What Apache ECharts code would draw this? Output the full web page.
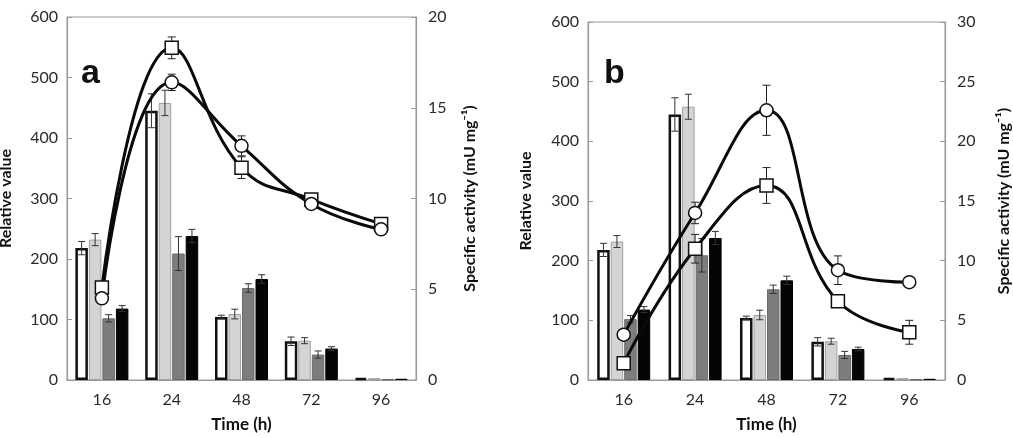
<!DOCTYPE html>
<html>
<head>
<meta charset="utf-8">
<script src="https://cdn.jsdelivr.net/npm/echarts@6/dist/echarts.min.js"></script>
<style>
html,body{margin:0;padding:0;background:#fff;}
#chart{width:1013px;height:438px;}
</style>
</head>
<body>
<div id="chart"></div>
<script>
// ---- data ----
const categories = ['16', '24', '48', '72', '96'];
// bars (relative value, left axis) - same in both panels
const barWhite = [218, 445, 104, 64, 3];
const barLight = [232, 458, 109, 65, 3];
const barDark  = [102, 209, 152, 42, 1];
const barBlack = [118, 238, 167, 52, 2];
const errWhite = [11, 28, 3, 7, 0];
const errLight = [10, 21, 8, 5, 0];
const errDark  = [6, 28, 7, 6, 0];
const errBlack = [5, 11, 7, 3, 0];
// lines panel a (specific activity, right axis 0-20)
const sqA    = [5.1, 18.3, 11.7, 9.95, 8.6];
const sqAErr = [0.3, 0.6, 0.6, 0.25, 0.25];
const ciA    = [4.5, 16.4, 12.9, 9.7, 8.3];
const ciAErr = [0.2, 0.45, 0.55, 0.25, 0.2];
// lines panel b (specific activity, right axis 0-30)
const ciB    = [3.8, 14.0, 22.6, 9.2, 8.2];
const ciBErr = [0.4, 0.9, 2.1, 1.2, 0.2];
const sqB    = [1.4, 11.0, 16.3, 6.6, 4.0];
const sqBErr = [0.3, 1.2, 1.5, 0.3, 1.0];
// ticks
const leftMax = 600, leftStep = 100;
const rightMaxA = 20, rightMaxB = 30, rightStep = 5;

// ---- style ----
const FONT = 'Lato';
const BAR_W = 12.5, BAR_GAP = 0.08;
const axisGray = '#9a9a9a';

const chart = echarts.init(document.getElementById('chart'));

const barSets = [
  {vals: barWhite, errs: errWhite, style: {color: '#ffffff', borderColor: '#111', borderWidth: 2.5}},
  {vals: barLight, errs: errLight, style: {color: '#d4d4d4', borderColor: '#a0a0a0', borderWidth: 1}},
  {vals: barDark,  errs: errDark,  style: {color: '#7d7d7d', borderColor: '#6a6a6a', borderWidth: 1}},
  {vals: barBlack, errs: errBlack, style: {color: '#050505', borderColor: '#000', borderWidth: 1}}
];

function errRender(offsetPx, cap, color, width) {
  return function (params, api) {
    const i = api.value(0), v = api.value(1), e = api.value(2);
    if (!e) return null;
    const hi = api.coord([i, v + e]);
    const lo = api.coord([i, v - e]);
    const x = hi[0] + offsetPx;
    const st = {stroke: color, lineWidth: width};
    return {type: 'group', children: [
      {type: 'line', shape: {x1: x, y1: hi[1], x2: x, y2: lo[1]}, style: st},
      {type: 'line', shape: {x1: x - cap, y1: hi[1], x2: x + cap, y2: hi[1]}, style: st},
      {type: 'line', shape: {x1: x - cap, y1: lo[1], x2: x + cap, y2: lo[1]}, style: st}
    ]};
  };
}

const series = [];
function addPanel(p, lines) {
  const xi = p, yl = p * 2, yr = p * 2 + 1;
  barSets.forEach((b) => {
    series.push({type: 'bar', xAxisIndex: xi, yAxisIndex: yl, data: b.vals, barWidth: BAR_W,
      barGap: (BAR_GAP * 100) + '%', itemStyle: b.style, z: 2, silent: true});
  });
  const spacing = BAR_W * (1 + BAR_GAP);
  barSets.forEach((b, k) => {
    series.push({type: 'custom', xAxisIndex: xi, yAxisIndex: yl, z: 3, silent: true,
      renderItem: errRender((k - 1.5) * spacing, 3.5, '#333', 1),
      encode: {x: 0, y: 1},
      data: b.vals.map((v, i) => [i, v, b.errs[i]])});
  });
  lines.forEach(l => {
    series.push({type: 'custom', xAxisIndex: xi, yAxisIndex: yr, z: 4, silent: true,
      renderItem: errRender(0, 4, '#222', 1), encode: {x: 0, y: 1},
      data: l.vals.map((v, i) => [i, v, l.errs[i]])});
    series.push({type: 'line', xAxisIndex: xi, yAxisIndex: yr, data: l.vals, smooth: 0.45,
      symbol: l.symbol, symbolSize: 13, z: 5, silent: true,
      lineStyle: {color: '#0a0a0a', width: 3},
      itemStyle: {color: '#fff', borderColor: '#111', borderWidth: 1.5}});
  });
}
addPanel(0, [
  {vals: sqA, errs: sqAErr, symbol: 'rect'},
  {vals: ciA, errs: ciAErr, symbol: 'circle'}
]);
addPanel(1, [
  {vals: ciB, errs: ciBErr, symbol: 'circle'},
  {vals: sqB, errs: sqBErr, symbol: 'rect'}
]);

const grids = [
  {left: 67, top: 17, width: 349, height: 363},
  {left: 588, top: 22, width: 357, height: 358}
].map(g => Object.assign({show: true, borderColor: axisGray, borderWidth: 1, backgroundColor: 'transparent', containLabel: false, outerBoundsMode: 'none'}, g));

const labelStyle = {color: '#2a2a2a', fontSize: 16, fontFamily: FONT};
const nameStyle = {color: '#111', fontSize: 16, fontWeight: 'bold', fontFamily: FONT};

function xAxis(gi) {
  return {type: 'category', gridIndex: gi, data: categories,
    name: 'Time (h)', nameLocation: 'middle', nameGap: 36,
    nameTextStyle: Object.assign({}, nameStyle, {fontSize: 17}),
    axisLine: {lineStyle: {color: axisGray, width: 1.2}},
    axisTick: {show: false}, axisLabel: Object.assign({margin: 12}, labelStyle),
    splitLine: {show: false}};
}
function yAxis(gi, pos, max, step, name, gap) {
  return {type: 'value', gridIndex: gi, position: pos, min: 0, max: max, interval: step,
    name: name, nameLocation: 'middle', nameGap: gap, nameTextStyle: nameStyle,
    axisLine: {show: true, lineStyle: {color: axisGray, width: 1.2}},
    axisTick: {show: true, inside: true, length: 5, lineStyle: {color: axisGray}},
    axisLabel: Object.assign({margin: pos === 'left' ? 9 : 12}, labelStyle),
    splitLine: {show: false}};
}

chart.setOption({
  animation: false,
  backgroundColor: '#fff',
  grid: grids,
  xAxis: [xAxis(0), xAxis(1)],
  yAxis: [
    yAxis(0, 'left', leftMax, leftStep, 'Relative value', 53),
    yAxis(0, 'right', rightMaxA, rightStep, 'Specific activity (mU mg\u207B\u00B9)', 46),
    yAxis(1, 'left', leftMax, leftStep, 'Relative value', 54),
    yAxis(1, 'right', rightMaxB, rightStep, 'Specific activity (mU mg\u207B\u00B9)', 51)
  ],
  graphic: [
    {type: 'text', x: 81, y: 57, style: {text: 'a', font: 'bold 34px "Liberation Sans"', fill: '#111', textBaseline: 'alphabetic'}},
    {type: 'text', x: 604, y: 57, style: {text: 'b', font: 'bold 34px "Liberation Sans"', fill: '#111', textBaseline: 'alphabetic'}}
  ],
  series: series
});
</script>
</body>
</html>
